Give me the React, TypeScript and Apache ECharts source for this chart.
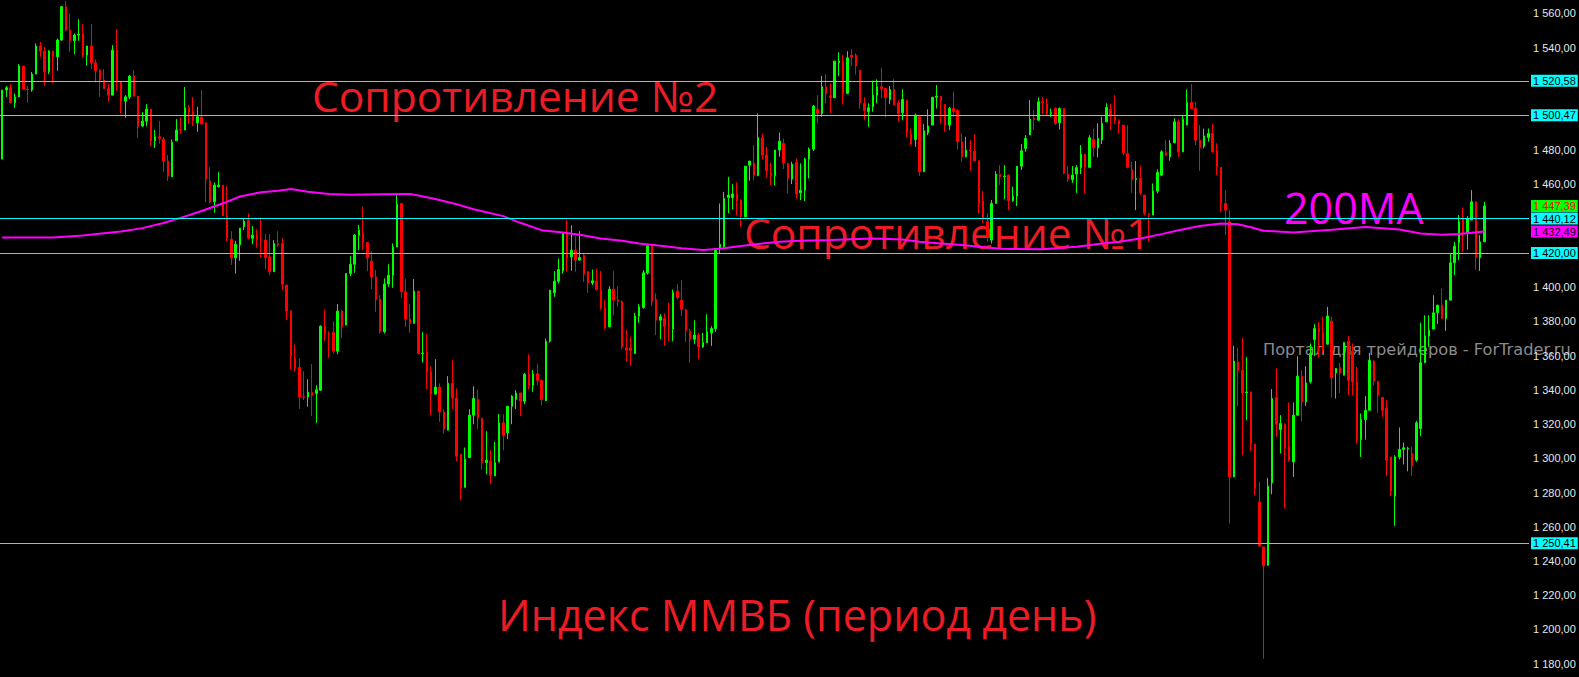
import React, { useEffect, useRef } from "react";
import * as echarts from "echarts";

// Daily MICEX index candles: [open, close, low, high]
const candlesA: number[][] = [
  [1474.8,1515.2,1474.8,1515.2],[1515.2,1516.5,1511.2,1517.5],[1516.5,1507.7,1507.7,1518.6],[1507.7,1511.0,1504.8,1513.2],
  [1511.2,1529.2,1511.2,1530.3],[1529.2,1515.7,1515.7,1529.2],[1515.7,1515.4,1507.7,1517.5],[1515.2,1524.5,1514.2,1525.7],
  [1524.5,1540.9,1524.5,1542.4],[1540.9,1537.9,1534.6,1543.2],[1537.9,1525.9,1517.5,1540.5],[1525.9,1537.9,1524.5,1538.5],
  [1537.9,1534.6,1519.4,1537.9],[1534.6,1544.4,1526.4,1545.3],[1544.4,1563.9,1544.0,1564.2],[1563.9,1550.2,1549.6,1567.2],
  [1550.2,1544.0,1537.5,1560.0],[1544.0,1547.3,1536.2,1548.3],[1547.3,1547.9,1544.0,1556.6],[1547.9,1535.6,1534.2,1553.7],
  [1535.6,1540.9,1529.4,1541.0],[1540.9,1531.1,1527.4,1553.7],[1531.1,1526.5,1519.6,1533.1],[1526.8,1521.0,1511.2,1527.4],
  [1521.0,1516.1,1515.7,1527.4],[1516.1,1512.2,1508.3,1519.0],[1512.2,1538.5,1512.2,1541.4],[1538.5,1520.0,1514.8,1550.8],
  [1520.0,1508.7,1501.5,1520.0],[1508.7,1511.2,1499.0,1512.2],[1511.2,1523.3,1509.9,1523.9],[1523.3,1511.6,1511.6,1526.8],
  [1511.6,1494.1,1487.3,1511.6],[1494.1,1497.0,1493.7,1502.3],[1497.0,1504.0,1494.1,1507.0],[1504.0,1485.5,1482.6,1504.0],
  [1485.5,1487.9,1481.4,1491.8],[1487.9,1487.0,1483.8,1497.0],[1486.5,1473.6,1467.4,1487.7],[1473.6,1464.9,1462.0,1477.2],
  [1464.5,1484.7,1464.5,1486.3],[1485.5,1491.8,1485.5,1498.2],[1492.2,1491.8,1489.6,1499.2],[1491.8,1504.8,1491.8,1516.9],
  [1504.8,1502.5,1495.3,1506.2],[1502.5,1497.2,1494.1,1511.0],[1496.1,1499.6,1490.8,1505.4],[1499.4,1495.3,1495.3,1515.2],
  [1496.1,1463.1,1449.5,1496.1],[1462.0,1449.9,1448.9,1470.1],[1449.9,1459.6,1443.5,1461.2],[1458.6,1459.6,1458.6,1467.2],
  [1459.6,1441.7,1441.7,1459.6],[1441.5,1428.8,1426.7,1459.0],[1428.0,1417.1,1413.0,1432.7],[1417.1,1425.1,1408.0,1427.1],
  [1424.7,1434.5,1415.4,1434.5],[1435.3,1438.6,1433.3,1439.9],[1439.2,1428.6,1427.9,1443.1],[1428.6,1430.4,1425.1,1435.7],
  [1430.4,1428.0,1423.0,1433.9],[1428.0,1427.5,1417.1,1440.7],[1427.5,1417.2,1410.5,1431.0],[1417.7,1409.0,1407.0,1431.0],
  [1409.0,1425.5,1409.0,1427.5],[1425.5,1425.0,1423.6,1432.7],[1425.5,1401.8,1398.3,1428.5],[1401.2,1386.0,1380.7,1401.2],
  [1386.2,1359.9,1352.1,1386.2],[1358.3,1352.9,1350.5,1366.5],[1353.1,1335.9,1328.9,1358.3],[1335.9,1335.5,1334.0,1350.9],
  [1335.9,1338.6,1330.1,1346.2],[1338.6,1336.9,1324.8,1355.0],[1337.9,1340.0,1320.7,1342.7],[1339.8,1377.2,1339.4,1377.6],
  [1377.2,1372.7,1368.6,1386.6],[1372.7,1372.3,1358.7,1374.3],[1373.5,1362.6,1361.2,1380.1],[1362.6,1386.0,1360.8,1390.1],
  [1386.0,1376.8,1370.4,1386.6],[1377.8,1408.0,1377.8,1408.0],[1408.0,1413.4,1406.4,1418.1],[1413.4,1430.4,1408.4,1431.0],
  [1430.4,1433.3,1421.6,1436.3],[1431.4,1426.1,1421.6,1447.0],[1426.1,1417.2,1409.4,1426.1],[1415.2,1406.0,1398.8,1421.0],
  [1406.0,1392.8,1385.6,1410.0],[1393.0,1373.9,1372.9,1395.3],
];

const candlesB: number[][] = [
  [1373.9,1401.8,1372.9,1405.1],[1401.8,1407.0,1400.2,1413.4],[1407.0,1423.4,1399.6,1425.5],[1423.4,1448.5,1423.4,1453.8],
  [1448.9,1397.3,1393.8,1448.9],[1397.3,1381.3,1376.8,1404.7],[1381.3,1378.8,1373.3,1390.1],[1378.8,1397.7,1378.8,1404.7],
  [1397.7,1361.2,1360.8,1397.7],[1361.2,1361.4,1356.0,1373.7],[1362.2,1350.5,1340.4,1372.5],[1350.5,1337.5,1325.2,1353.8],
  [1337.5,1341.6,1337.5,1357.9],[1341.6,1327.1,1321.3,1343.7],[1327.1,1317.0,1314.5,1328.7],[1316.4,1343.9,1316.4,1348.0],
  [1343.9,1335.3,1328.7,1357.3],[1335.3,1301.2,1298.3,1340.8],[1302.4,1282.3,1275.5,1302.4],[1283.0,1299.5,1283.0,1306.3],
  [1300.4,1325.2,1300.4,1328.7],[1325.2,1334.9,1319.9,1342.1],[1334.4,1323.6,1317.0,1340.2],[1323.2,1297.5,1293.4,1323.8],
  [1297.5,1298.9,1290.7,1315.8],[1298.3,1290.1,1284.9,1304.7],[1289.7,1297.5,1289.7,1309.6],[1297.9,1320.7,1297.9,1325.8],
  [1320.7,1313.1,1304.7,1325.8],[1314.9,1330.4,1311.2,1330.4],[1330.4,1336.3,1319.9,1336.9],[1334.4,1338.2,1328.7,1339.8],
  [1338.2,1333.4,1324.6,1338.2],[1333.4,1349.1,1331.6,1349.9],[1349.1,1342.7,1340.4,1360.8],[1342.7,1349.1,1338.8,1351.5],
  [1349.5,1345.6,1342.7,1355.0],[1345.6,1334.3,1331.0,1346.0],[1333.6,1368.4,1333.6,1370.0],[1368.4,1398.3,1367.5,1398.3],
  [1396.7,1403.5,1394.4,1409.4],[1403.5,1410.3,1402.1,1416.8],[1409.4,1431.4,1408.0,1431.8],[1431.4,1417.1,1409.0,1439.6],
  [1417.7,1421.6,1409.6,1436.2],[1421.6,1415.8,1409.0,1429.8],[1415.8,1417.3,1415.6,1432.7],[1418.7,1407.6,1403.1,1419.3],
  [1409.0,1402.5,1396.7,1409.4],[1402.5,1403.7,1401.2,1410.3],[1403.5,1398.6,1398.2,1410.9],[1398.2,1387.9,1386.6,1409.4],
  [1387.9,1376.2,1375.5,1392.4],[1376.8,1398.8,1376.8,1400.6],[1398.8,1392.4,1383.6,1409.4],[1392.4,1391.8,1388.5,1400.6],
  [1391.8,1365.1,1363.8,1392.0],[1364.5,1363.2,1356.4,1374.9],[1364.5,1362.8,1354.0,1371.0],[1361.2,1383.1,1361.2,1385.0],
  [1383.1,1388.5,1379.2,1390.1],[1388.1,1408.4,1387.5,1410.0],[1408.4,1424.2,1407.4,1424.2],[1424.2,1391.4,1388.9,1424.2],
  [1392.8,1380.7,1372.0,1396.3],[1380.7,1382.7,1369.4,1384.2],[1381.7,1377.2,1365.7,1384.6],[1377.6,1377.0,1368.4,1390.9],
  [1375.5,1396.9,1368.4,1398.6],[1397.7,1393.8,1393.0,1401.8],[1392.4,1387.1,1383.2,1404.1],[1387.1,1374.5,1368.0,1387.1],
  [1374.3,1369.6,1355.8,1375.5],[1369.6,1372.0,1366.7,1380.7],[1372.0,1365.1,1357.9,1373.3],[1365.1,1367.7,1364.5,1373.3],
  [1367.5,1373.9,1367.5,1384.2],[1373.3,1375.8,1365.7,1377.2],[1375.8,1422.6,1373.9,1422.6],[1422.6,1425.0,1419.7,1448.9],
  [1423.6,1451.8,1422.6,1455.7],[1452.4,1453.8,1443.1,1464.5],[1452.4,1454.4,1445.4,1460.2],[1454.4,1450.3,1442.1,1461.2],
  [1450.9,1441.1,1435.3,1451.2],[1441.1,1470.7,1441.1,1470.7],[1471.3,1473.7,1462.2,1473.7],[1472.3,1465.5,1462.5,1483.0],
  [1465.1,1487.5,1465.1,1501.5],[1487.3,1477.2,1474.8,1489.8],
];

const candlesC: number[][] = [
  [1477.2,1468.0,1464.1,1482.0],[1466.8,1465.1,1459.6,1472.7],[1465.1,1480.1,1459.6,1480.1],[1480.1,1485.3,1476.2,1490.4],
  [1484.0,1472.7,1469.0,1486.9],[1472.3,1463.5,1454.7,1472.7],[1463.1,1471.9,1460.2,1473.3],[1472.9,1454.4,1451.8,1475.2],
  [1455.1,1456.7,1450.9,1472.3],[1456.7,1474.8,1450.3,1475.6],[1474.8,1480.7,1463.5,1481.6],[1480.7,1505.8,1479.5,1506.4],
  [1504.0,1501.5,1495.7,1512.2],[1501.5,1517.1,1499.6,1523.5],[1517.1,1513.2,1507.4,1524.5],[1511.8,1510.7,1501.9,1519.0],
  [1510.7,1532.1,1510.7,1532.1],[1531.1,1532.1,1523.3,1537.2],[1532.1,1513.2,1506.8,1535.6],[1513.2,1534.0,1513.2,1537.9],
  [1535.6,1534.2,1529.2,1538.9],[1535.6,1529.2,1524.3,1536.6],[1526.8,1507.7,1504.4,1526.8],[1507.4,1503.1,1497.6,1510.9],
  [1502.5,1504.8,1493.7,1507.4],[1505.4,1512.2,1502.5,1520.6],[1512.2,1517.1,1507.4,1521.4],[1517.1,1516.1,1510.3,1528.2],
  [1516.1,1510.7,1499.2,1516.1],[1509.7,1515.5,1507.0,1517.5],[1515.5,1506.4,1506.4,1521.6],[1507.7,1501.5,1496.6,1509.3],
  [1501.9,1509.7,1497.6,1515.7],[1509.3,1490.2,1487.5,1509.3],[1489.4,1483.6,1483.0,1492.7],[1486.3,1500.5,1482.0,1501.5],
  [1499.6,1467.4,1465.1,1499.6],[1467.4,1491.4,1467.4,1495.3],[1490.2,1494.1,1488.8,1503.9],[1494.7,1510.9,1494.7,1511.3],
  [1510.9,1511.6,1504.4,1518.1],[1511.6,1508.9,1495.7,1511.6],[1506.8,1494.7,1490.8,1506.8],[1494.7,1504.4,1491.8,1505.4],
  [1504.4,1502.5,1499.6,1514.2],[1503.5,1484.9,1480.5,1503.5],[1484.9,1476.2,1473.3,1489.8],[1476.2,1480.1,1475.8,1487.9],
  [1480.1,1479.7,1468.0,1485.9],[1479.5,1473.9,1473.3,1489.2],[1473.9,1448.9,1443.1,1473.9],[1450.3,1439.6,1437.6,1456.1],
  [1438.2,1429.4,1426.5,1443.1],[1427.5,1448.9,1425.5,1450.9],[1448.9,1466.0,1448.9,1467.8],[1465.9,1464.5,1459.6,1471.3],
  [1464.5,1464.9,1451.4,1471.3],[1465.5,1450.5,1445.0,1465.5],[1450.5,1453.2,1449.9,1458.7],[1453.2,1470.7,1447.4,1470.7],
  [1470.7,1479.7,1468.4,1483.6],[1481.1,1486.9,1479.1,1488.9],[1488.9,1498.2,1488.9,1509.3],[1498.6,1498.0,1491.8,1503.5],
  [1497.6,1508.3,1497.2,1510.9],[1508.3,1507.7,1501.1,1510.9],[1507.0,1501.5,1500.5,1510.3],[1501.5,1502.0,1499.6,1504.4],
  [1504.4,1495.7,1494.7,1505.0],[1496.1,1504.4,1492.2,1505.0],[1504.4,1466.8,1466.0,1504.4],[1466.0,1462.9,1461.6,1470.7],
  [1462.9,1465.5,1461.0,1470.7],[1466.1,1469.8,1455.1,1471.3],[1469.8,1477.7,1466.1,1483.0],[1477.7,1470.0,1454.8,1477.7],
  [1470.0,1487.3,1470.0,1488.8],[1486.3,1481.4,1476.2,1492.7],[1481.4,1486.9,1475.8,1495.7],[1486.0,1495.7,1483.6,1499.6],
  [1496.6,1505.0,1496.6,1507.4],[1503.8,1499.9,1491.8,1507.0],[1499.6,1497.2,1495.3,1512.2],[1497.2,1495.3,1489.8,1498.0],
  [1494.7,1478.5,1477.2,1494.7],[1478.1,1470.0,1469.4,1494.7],[1468.8,1462.9,1455.1,1473.3],[1462.9,1463.5,1445.0,1473.7],
  [1463.5,1455.1,1453.8,1470.7],[1453.8,1443.1,1442.1,1453.8],
];

const candlesD: number[][] = [
  [1443.1,1442.5,1426.5,1443.1],[1442.1,1456.1,1442.1,1460.6],[1456.1,1467.0,1454.8,1468.8],[1465.5,1479.1,1464.9,1480.1],
  [1478.5,1477.2,1476.6,1485.9],[1476.2,1484.0,1473.9,1485.9],[1484.4,1496.6,1484.0,1498.6],[1496.6,1479.1,1476.2,1498.0],
  [1479.1,1498.0,1479.1,1500.0],[1494.7,1507.9,1494.7,1515.5],[1507.9,1504.4,1504.4,1518.7],[1504.4,1485.9,1483.0,1508.3],
  [1485.9,1481.4,1468.0,1494.7],[1482.4,1488.3,1481.1,1492.7],[1487.5,1489.8,1485.0,1492.7],[1489.8,1479.1,1478.5,1495.3],
  [1479.7,1470.3,1465.5,1484.0],[1470.0,1448.9,1444.0,1470.0],[1448.9,1445.0,1430.4,1456.7],[1438.2,1289.1,1261.9,1445.0],
  [1289.1,1356.8,1289.1,1365.7],[1356.4,1351.1,1330.4,1364.5],[1351.5,1338.2,1301.8,1370.4],[1338.2,1338.6,1322.3,1359.3],
  [1338.8,1308.6,1304.3,1338.8],[1308.2,1282.3,1278.4,1308.2],[1274.5,1248.8,1248.2,1286.2],[1248.2,1237.1,1182.9,1248.2],
  [1237.5,1283.7,1237.1,1288.6],[1285.6,1334.9,1279.0,1340.4],[1335.5,1319.9,1312.5,1352.5],[1316.8,1320.3,1302.8,1325.2],
  [1320.0,1305.7,1270.6,1320.3],[1307.0,1298.9,1297.9,1332.6],[1297.9,1325.2,1289.1,1332.6],[1325.2,1348.0,1325.2,1359.6],
  [1348.0,1333.0,1321.7,1351.5],[1333.0,1344.1,1330.6,1353.8],[1344.7,1361.2,1343.7,1367.1],[1369.4,1375.8,1359.7,1378.4],
  [1375.8,1373.9,1358.7,1379.7],[1373.9,1363.6,1361.6,1382.7],[1366.7,1383.1,1366.7,1388.5],[1380.1,1347.0,1335.5,1382.7],
  [1349.9,1352.5,1334.9,1352.5],[1353.0,1349.9,1338.2,1355.8],[1348.5,1367.7,1348.5,1367.7],[1368.4,1345.6,1336.9,1371.4],
  [1362.6,1344.7,1336.9,1367.1],[1344.7,1310.9,1308.6,1353.4],[1310.9,1322.6,1300.8,1326.2],[1322.6,1328.1,1310.9,1336.3],
  [1328.1,1357.3,1328.1,1361.6],[1356.8,1345.0,1342.7,1357.3],[1345.0,1336.9,1326.5,1345.0],[1335.5,1328.1,1324.2,1335.9],
  [1329.1,1298.9,1289.5,1333.9],[1300.8,1281.0,1278.0,1300.8],[1278.0,1300.8,1260.5,1301.8],[1300.8,1305.1,1299.3,1318.0],
  [1305.1,1306.1,1296.4,1309.2],[1305.5,1305.9,1292.4,1306.7],[1302.8,1295.6,1289.7,1306.7],[1298.9,1320.7,1297.9,1321.9],
  [1317.4,1355.8,1312.9,1379.3],[1355.8,1371.4,1355.8,1383.6],[1371.4,1374.9,1365.1,1383.6],[1375.5,1385.0,1375.5,1395.3],
  [1385.2,1389.5,1378.4,1389.5],[1389.5,1381.7,1381.7,1399.2],[1381.7,1392.4,1374.5,1392.4],[1392.4,1414.2,1392.4,1419.7],
  [1414.2,1424.0,1407.0,1426.5],[1425.9,1438.2,1415.8,1442.1],[1440.7,1431.8,1420.7,1446.6],[1431.8,1440.1,1422.0,1441.5],
  [1439.2,1449.9,1439.2,1456.7],[1449.9,1417.3,1410.3,1449.9],[1417.3,1426.5,1409.5,1430.4],[1426.5,1447.39,1426.5,1449.9],
];

// 200-day moving average: [bar index, value]
const ma200: number[][] = [
  [0,1429.0],[12,1429.0],[19,1430.2],[24,1431.5],[28,1432.5],[33,1434.5],[38,1437.5],[42,1440.5],
  [47,1444.5],[52,1449.0],[56,1453.0],[61,1455.5],[65,1456.3],[68,1457.3],[72,1455.8],[77,1454.5],
  [82,1454.0],[89,1454.3],[96,1454.5],[98,1453.5],[102,1451.5],[107,1448.5],[111,1445.5],[118,1441.5],
  [122,1437.6],[127,1433.3],[132,1432.0],[136,1430.6],[141,1428.4],[146,1427.1],[150,1425.5],[155,1424.2],
  [160,1422.8],[165,1421.7],[169,1422.4],[174,1424.0],[179,1425.5],[183,1426.5],[188,1427.1],[195,1427.5],
  [205,1428.4],[212,1427.9],[216,1426.5],[221,1425.5],[226,1424.7],[230,1423.6],[235,1422.4],[245,1422.2],
  [253,1423.6],[259,1425.5],[263,1426.5],[268,1428.4],[273,1431.0],[277,1433.3],[282,1435.7],[287,1437.2],
  [291,1436.8],[294,1435.0],[297,1433.0],[304,1432.0],[313,1433.5],[321,1435.1],[329,1433.7],[334,1431.4],
  [339,1430.6],[343,1431.0],[349,1432.49],
];

const resistanceLevels = [1520.58, 1500.47, 1440.12, 1420.0];
const supportLevels = [1250.41];
const priceTicks = [1180, 1200, 1220, 1240, 1260, 1280, 1300, 1320, 1340, 1360, 1380, 1400, 1460, 1480, 1540, 1560];
const totalSlots = 360; // bars plus the empty right-hand shift

const candles = [...candlesA, ...candlesB, ...candlesC, ...candlesD];
const slots = Array.from({ length: totalSlots }, (_, i) => String(i + 1));
const lastClose = candles[candles.length - 1][1];
const lastMa = ma200[ma200.length - 1][1];

const fmtPrice = (v: number) => {
  const [int, dec] = v.toFixed(2).split(".");
  return int.replace(/\B(?=(\d{3})+(?!\d))/g, " ") + "," + dec;
};

const AXIS_FONT = "Liberation Sans";
const CYAN = "#00ffff";
const RED_TEXT = "#ed1c24";
const HIDDEN_LINE = { color: "rgba(0,0,0,0)", width: 0 };

const tagLabel = (bg: string, fg: string) => ({
  show: true,
  position: "end" as const,
  distance: 2,
  formatter: (p: any) => fmtPrice(p.value),
  backgroundColor: bg,
  color: fg,
  fontFamily: AXIS_FONT,
  fontSize: 11,
  padding: [1, 2, 0, 2],
});

export default function App() {
  const ref = useRef<HTMLDivElement>(null);

  useEffect(() => {
    if (!ref.current) return;
    const chart = echarts.init(ref.current, undefined, { renderer: "svg" });

    const levelLines = [...resistanceLevels, ...supportLevels].map((v) => ({
      yAxis: v,
      label: tagLabel(CYAN, "#000000"),
    }));

    chart.setOption({
      animation: false,
      backgroundColor: "#000000",
      grid: { left: -2, right: 50, top: 0, bottom: 0, containLabel: false },
      xAxis: {
        type: "category",
        data: slots,
        boundaryGap: true,
        show: false,
      },
      yAxis: {
        type: "value",
        position: "right",
        min: 1172.2,
        max: 1567.8,
        scale: true,
        splitLine: { show: false },
        axisLine: { show: false },
        axisTick: { show: false },
        axisLabel: {
          customValues: priceTicks,
          formatter: (v: number) => fmtPrice(v),
          color: "#e6e6e6",
          fontFamily: AXIS_FONT,
          fontSize: 11,
          margin: 4,
          align: "left",
        },
      },
      series: [
        {
          type: "candlestick",
          data: candles,
          barWidth: 2,
          z: 3,
          itemStyle: {
            color: "#00ff00",
            color0: "#ff0000",
            borderColor: "#00ff00",
            borderColor0: "#ff0000",
            borderWidth: 1,
          },
          markLine: {
            silent: true,
            symbol: ["none", "none"],
            lineStyle: { color: CYAN, width: 1, type: "solid" },
            data: [
              ...levelLines,
              { yAxis: lastClose, lineStyle: HIDDEN_LINE, label: tagLabel("#00ff00", "#ff0000") },
            ],
          },
        },
        {
          type: "line",
          data: ma200,
          showSymbol: false,
          z: 4,
          lineStyle: { color: "#ff00ff", width: 2 },
          markLine: {
            silent: true,
            symbol: ["none", "none"],
            lineStyle: HIDDEN_LINE,
            data: [{ yAxis: lastMa, label: tagLabel("#ff00ff", "#000000") }],
          },
        },
      ],
      graphic: [
        {
          type: "text",
          x: 312,
          y: 95,
          style: { text: "Сопротивление №2", fontFamily: "Open Sans", fontSize: 42.5, fill: RED_TEXT, verticalAlign: "middle" },
        },
        {
          type: "text",
          x: 744,
          y: 232,
          style: { text: "Сопротивление №1", fontFamily: "Open Sans", fontSize: 42.5, fill: RED_TEXT, verticalAlign: "middle" },
        },
        {
          type: "text",
          x: 1284,
          y: 207,
          style: { text: "200MA", fontFamily: "Open Sans", fontSize: 43, fill: "#ff00ff", verticalAlign: "middle" },
        },
        {
          type: "text",
          x: 498,
          y: 614,
          style: { text: "Индекс ММВБ (период день)", fontFamily: "Open Sans", fontSize: 43, fill: RED_TEXT, verticalAlign: "middle" },
        },
        {
          type: "text",
          x: 1263,
          y: 349,
          style: { text: "Портал для трейдеров - ForTrader.ru", fontFamily: "DejaVu Sans", fontSize: 16.2, fill: "#8c8c8c", verticalAlign: "middle" },
        },
      ],
    });

    return () => chart.dispose();
  }, []);

  return (
    <div
      ref={ref}
      style={{ position: "absolute", left: 0, top: 0, width: 1579, height: 677, background: "#000" }}
    />
  );
}
